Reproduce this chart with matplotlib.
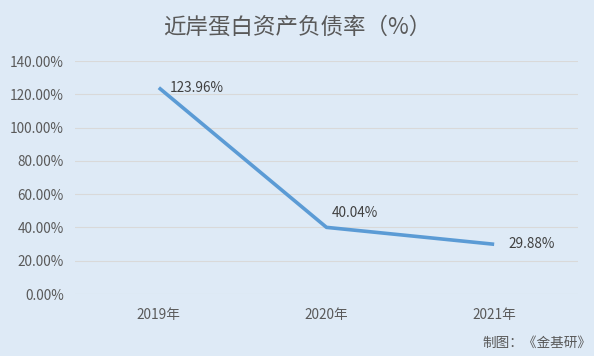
import matplotlib.pyplot as plt

plt.rcParams['font.family'] = ['Noto Sans CJK SC', 'DejaVu Sans']

years = ['2019年', '2020年', '2021年']
ratio = [123.96, 40.04, 29.88]
yticks = [0, 20, 40, 60, 80, 100, 120, 140]

bg = '#DEEAF6'
txt = '#595959'

fig = plt.figure(figsize=(5.94, 3.56), dpi=100, facecolor=bg)
ax = fig.add_axes([75 / 594, 1 - 294 / 356, 503 / 594, 233 / 356])
ax.set_facecolor(bg)

x = range(len(years))
ax.plot(x, ratio, color='#5B9BD5', lw=2.6, solid_capstyle='butt', zorder=3)

# data labels
offsets = [(8, 0), (4, 10), (10, 0)]
for i, v in enumerate(ratio):
    ax.annotate(f'{v:.2f}%', (i, v), xytext=offsets[i], textcoords='offset points',
                ha='left', va='center', fontsize=9.8, color='#404040')

ax.set_xlim(-0.5, 2.5)
ax.set_ylim(0, 140)
ax.set_yticks(yticks)
ax.set_yticklabels([f'{t:.2f}%' for t in yticks], fontsize=9.8, color=txt)
ax.set_xticks(list(x))
ax.set_xticklabels(years, fontsize=9.8, color=txt)
ax.tick_params(length=0, pad=8)
ax.tick_params(axis='x', pad=10)
ax.grid(axis='y', color='#D9D9D9', lw=0.8)
ax.set_axisbelow(True)
for s in ax.spines.values():
    s.set_visible(False)

fig.text(0.5, 1 - 27 / 356, '近岸蛋白资产负债率（%）', ha='center', va='center',
         fontsize=16.2, color=txt)
fig.text(591 / 594, 1 - 343 / 356, '制图：《金基研》', ha='right', va='center',
         fontsize=9.8, color=txt)

fig.savefig('out.png', dpi=100, facecolor=bg)
